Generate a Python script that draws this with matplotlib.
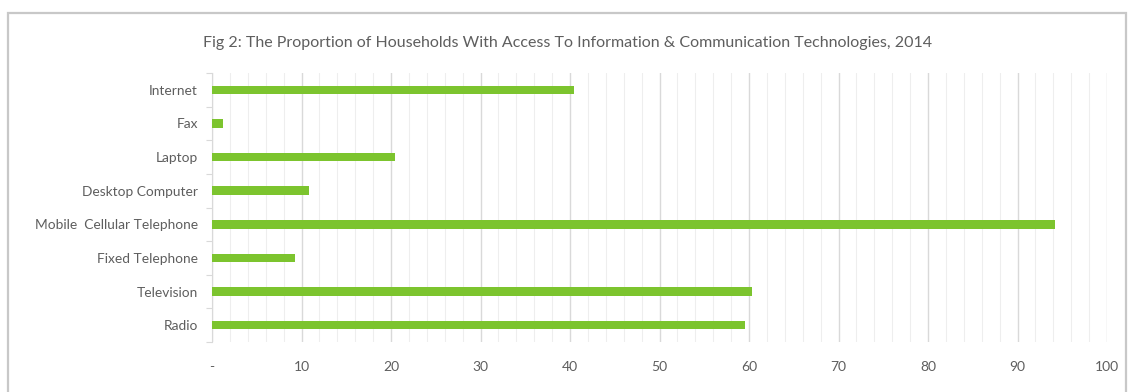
import matplotlib
matplotlib.use("Agg")
import matplotlib.pyplot as plt
from matplotlib.patches import Rectangle
from matplotlib.ticker import MultipleLocator, FixedLocator

categories = ["Internet", "Fax", "Laptop", "Desktop Computer",
              "Mobile  Cellular Telephone", "Fixed Telephone", "Television", "Radio"]
values = [40.5, 1.2, 20.4, 10.8, 94.2, 9.3, 60.3, 59.5]
xticks = [0, 10, 20, 30, 40, 50, 60, 70, 80, 90, 100]
xticklabels = ["-", "10", "20", "30", "40", "50", "60", "70", "80", "90", "100"]
title = "Fig 2: The Proportion of Households With Access To Information & Communication Technologies, 2014"

plt.rcParams['font.family'] = ['Lato', 'DejaVu Sans']
txt = "#5e5e5e"

W, H = 1129, 392
fig = plt.figure(figsize=(W / 100, H / 100), dpi=100)
fig.patch.set_facecolor("white")

# outer chart frame
fig.patches.append(Rectangle((8 / W, -0.02), (1126 - 8) / W, 1.02 - 13 / H,
                             transform=fig.transFigure, fill=False,
                             edgecolor="#c8c8c8", linewidth=1.6))

left, right = 212 / W, 1107 / W
top, bottom = 1 - 73 / H, 1 - 342 / H
ax = fig.add_axes([left, bottom, right - left, top - bottom])

n = len(categories)
ypos = list(range(n))
ax.barh(ypos, values, height=0.25, color="#7CC42E", zorder=3)
ax.set_ylim(n - 0.5, -0.5)
ax.set_xlim(0, 100)

ax.set_yticks(ypos)
ax.set_yticklabels(categories, fontsize=9.9, color=txt)
ax.yaxis.set_minor_locator(FixedLocator([i - 0.5 for i in range(n + 1)]))
ax.tick_params(axis="y", which="major", length=0, pad=10)
ax.tick_params(axis="y", which="minor", length=4, color="#d9d9d9", width=0.8)

ax.set_xticks(xticks)
ax.set_xticklabels(xticklabels, fontsize=10, color=txt)
ax.xaxis.set_minor_locator(MultipleLocator(2))
ax.tick_params(axis="x", which="both", length=0, pad=14)

ax.grid(axis="x", which="major", color="#d9d9d9", linewidth=1.0, zorder=0)
ax.grid(axis="x", which="minor", color="#eeeeee", linewidth=0.8, zorder=0)

for s in ["top", "right", "bottom"]:
    ax.spines[s].set_visible(False)
ax.spines["left"].set_color("#d9d9d9")
ax.spines["left"].set_linewidth(0.8)

fig.text(568 / W, 1 - 43 / H, title, ha="center", va="center",
         fontsize=11.5, color=txt)

fig.savefig("out.png", dpi=100)
